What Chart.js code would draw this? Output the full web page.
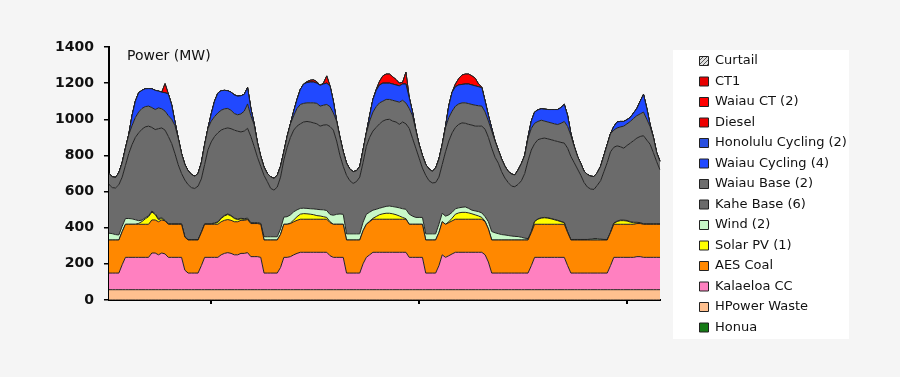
<!DOCTYPE html>
<html>
<head>
<meta charset="utf-8">
<script src="https://cdn.jsdelivr.net/npm/chart.js@4.4.1/dist/chart.umd.min.js"></script>
<style>
  html, body { margin: 0; padding: 0; background: #f5f5f5; }
  #wrap { width: 900px; height: 377px; position: relative; }
</style>
</head>
<body>
<div id="wrap"><canvas id="chart"></canvas></div>
<script>
// one week of hourly dispatch, MW
const hours = Array.from({ length: 168 }, (_, i) => i);
const xTickHours = [31, 94, 157];
const yTicks = [0, 200, 400, 600, 800, 1000, 1200, 1400];
const axisTitle = 'Power (MW)';

const honua = [
  0,0,0,0,0,0,0,0,0,0,0,0,0,0,0,0,0,0,0,0,0,0,0,0,
  0,0,0,0,0,0,0,0,0,0,0,0,0,0,0,0,0,0,0,0,0,0,0,0,
  0,0,0,0,0,0,0,0,0,0,0,0,0,0,0,0,0,0,0,0,0,0,0,0,
  0,0,0,0,0,0,0,0,0,0,0,0,0,0,0,0,0,0,0,0,0,0,0,0,
  0,0,0,0,0,0,0,0,0,0,0,0,0,0,0,0,0,0,0,0,0,0,0,0,
  0,0,0,0,0,0,0,0,0,0,0,0,0,0,0,0,0,0,0,0,0,0,0,0,
  0,0,0,0,0,0,0,0,0,0,0,0,0,0,0,0,0,0,0,0,0,0,0,0
];
const hpowerWaste = [
  57,57,57,57,57,57,57,57,57,57,57,57,57,57,57,57,57,57,57,57,57,57,57,57,
  57,57,57,57,57,57,57,57,57,57,57,57,57,57,57,57,57,57,57,57,57,57,57,57,
  57,57,57,57,57,57,57,57,57,57,57,57,57,57,57,57,57,57,57,57,57,57,57,57,
  57,57,57,57,57,57,57,57,57,57,57,57,57,57,57,57,57,57,57,57,57,57,57,57,
  57,57,57,57,57,57,57,57,57,57,57,57,57,57,57,57,57,57,57,57,57,57,57,57,
  57,57,57,57,57,57,57,57,57,57,57,57,57,57,57,57,57,57,57,57,57,57,57,57,
  57,57,57,57,57,57,57,57,57,57,57,57,57,57,57,57,57,57,57,57,57,57,57,57
];
const kalaeloaCC = [
  92,92,92,92,138,179,179,179,179,179,179,179,179,203,203,193,203,198,179,179,179,179,179,108,
  92,92,92,92,133,179,179,179,179,179,193,201,205,201,193,193,201,201,205,183,183,183,179,92,
  92,92,92,92,123,179,179,183,193,201,207,207,207,207,207,207,207,207,207,188,179,179,179,179,
  92,92,92,92,92,143,179,193,207,207,207,207,207,207,207,207,207,207,207,179,179,179,179,179,
  92,92,92,92,133,193,179,188,198,207,207,207,207,207,207,207,207,207,193,153,92,92,92,92,
  92,92,92,92,92,92,92,92,133,179,179,179,179,179,179,179,179,179,179,133,92,92,92,92,
  92,92,92,92,92,92,92,92,133,179,179,179,179,179,179,179,183,183,179,179,179,179,179,179
];
const aesCoal = [
  183,183,183,183,183,183,183,183,183,183,183,183,183,183,183,183,183,183,183,183,183,183,183,183,
  183,183,183,183,183,183,183,183,183,183,183,183,183,183,183,183,183,183,183,183,183,183,183,183,
  183,183,183,183,183,183,183,183,183,183,183,183,183,183,183,183,183,183,183,183,183,183,183,183,
  183,183,183,183,183,183,183,183,183,183,183,183,183,183,183,183,183,183,183,183,183,183,183,183,
  183,183,183,183,183,183,183,183,183,183,183,183,183,183,183,183,183,183,183,183,183,183,183,183,
  183,183,183,183,183,183,183,183,183,183,183,183,183,183,183,183,183,183,183,183,183,183,183,183,
  183,183,183,183,183,183,183,183,183,183,183,183,183,183,183,183,183,183,183,183,183,183,183,183
];
const solarPV = [
  0,0,0,0,0,0,0,0,0,5,15,30,42,44,30,12,8,0,0,0,0,0,0,0,
  0,0,0,0,0,0,0,0,5,10,18,24,28,24,18,12,8,5,3,0,0,0,0,0,
  0,0,0,0,0,0,0,3,10,20,28,31,30,28,25,20,18,14,10,5,0,0,0,0,
  0,0,0,0,0,0,0,3,5,15,25,30,33,33,30,25,18,10,3,0,0,0,0,0,
  0,0,0,0,0,0,0,5,15,28,35,38,38,35,30,24,18,10,3,0,0,0,0,0,
  0,0,0,0,0,0,0,0,3,15,28,34,36,34,30,25,20,14,8,2,0,0,0,0,
  0,0,0,0,0,0,0,0,0,5,15,20,20,18,12,8,4,2,0,0,0,0,0,0
];
const wind = [
  38,35,30,28,30,32,32,30,25,15,8,6,5,5,5,5,5,3,3,3,3,3,3,2,
  2,2,2,2,3,3,3,3,3,3,3,3,3,3,3,3,3,4,5,5,5,5,5,18,
  18,18,18,18,30,40,42,45,45,38,32,30,30,30,32,35,35,38,38,40,50,55,57,55,
  34,34,34,34,34,47,55,50,45,40,36,36,38,40,40,42,45,48,52,56,45,38,38,38,
  34,34,34,34,47,47,45,38,32,30,28,28,30,25,20,22,24,25,25,40,47,40,35,30,
  28,25,22,20,19,15,10,8,3,2,2,2,2,2,2,2,2,2,2,2,3,3,3,3,
  3,3,5,8,8,5,3,3,3,3,3,3,3,3,3,3,3,3,3,3,3,3,3,3
];
const kaheBase = [
  270,255,258,278,272,294,359,411,456,486,503,503,496,463,465,498,496,499,483,444,388,326,278,314,
  304,288,283,296,294,328,409,453,478,493,486,480,476,480,486,486,478,485,497,477,422,362,316,340,
  305,268,258,275,287,316,384,429,452,463,468,477,481,480,476,473,462,469,475,487,471,406,324,266,
  324,294,279,289,314,330,376,414,438,453,467,477,480,480,473,471,462,480,473,475,431,383,328,273,
  324,294,282,284,260,270,356,409,440,450,462,467,463,465,471,469,473,480,484,467,461,418,390,348,
  315,293,276,275,289,313,358,430,451,429,438,438,439,437,436,436,436,437,439,463,459,425,390,355,
  315,290,277,272,295,323,375,425,444,418,416,406,398,415,434,452,466,477,487,463,440,393,343,298
];
const waiauBase = [
  60,60,58,67,80,95,105,105,110,115,115,112,111,110,111,115,106,105,115,134,155,147,110,86,
  77,73,68,70,90,110,119,115,110,110,110,110,108,102,92,91,100,110,135,115,120,80,55,45,
  45,64,65,65,60,45,60,75,80,98,107,103,103,106,111,113,111,110,112,110,95,110,100,80,
  67,65,65,60,58,70,74,90,105,115,116,110,112,110,115,115,123,120,115,110,125,100,75,70,
  60,65,64,80,100,110,135,130,120,118,113,111,113,115,114,116,113,111,95,90,95,90,73,70,
  65,62,67,65,80,95,100,125,120,113,101,102,94,93,93,93,94,106,120,120,116,90,70,65,
  62,70,71,71,70,80,90,100,100,95,99,110,122,120,120,123,124,125,131,115,98,85,50,48
];
const waiauCycling = [
  0,0,0,0,0,0,0,55,90,107,100,99,97,104,106,93,92,102,120,80,20,0,0,0,
  0,0,0,0,0,0,0,40,85,110,108,102,98,100,103,103,100,93,90,40,5,0,0,0,
  0,0,0,0,0,0,0,0,25,50,83,107,112,115,115,112,115,117,118,114,65,0,0,0,
  0,0,0,0,0,0,0,30,70,90,99,100,90,90,90,90,90,90,105,60,20,0,0,0,
  0,0,0,0,0,0,5,65,105,107,105,102,104,108,108,107,105,102,60,30,15,0,0,0,
  0,0,0,0,0,0,0,5,40,62,64,63,66,69,74,79,83,87,94,60,10,0,0,0,
  0,0,0,0,0,0,0,0,0,20,33,30,26,23,22,30,40,70,98,60,10,0,0,0
];
const honoluluCycling = [
  0,0,0,0,0,0,0,0,0,0,0,0,0,0,0,0,0,0,0,0,0,0,0,0,
  0,0,0,0,0,0,0,0,0,0,0,0,0,0,0,0,0,0,0,0,0,0,0,0,
  0,0,0,0,0,0,0,0,0,0,0,0,0,0,0,0,0,0,0,0,0,0,0,0,
  0,0,0,0,0,0,0,0,0,0,0,0,0,0,0,0,0,0,0,0,0,0,0,0,
  0,0,0,0,0,0,0,0,0,0,0,0,0,0,0,0,0,0,0,0,0,0,0,0,
  0,0,0,0,0,0,0,0,0,0,0,0,0,0,0,0,0,0,0,0,0,0,0,0,
  0,0,0,0,0,0,0,0,0,0,0,0,0,0,0,0,0,0,0,0,0,0,0,0
];
const diesel = [
  0,0,0,0,0,0,0,0,0,0,0,0,0,0,0,0,0,0,0,0,0,0,0,0,
  0,0,0,0,0,0,0,0,0,0,0,0,0,0,0,0,0,0,0,0,0,0,0,0,
  0,0,0,0,0,0,0,0,0,0,0,0,0,0,0,0,0,0,0,0,0,0,0,0,
  0,0,0,0,0,0,0,0,0,0,0,0,0,0,0,0,0,0,0,0,0,0,0,0,
  0,0,0,0,0,0,0,0,0,0,0,0,0,0,0,0,0,0,0,0,0,0,0,0,
  0,0,0,0,0,0,0,0,0,0,0,0,0,0,0,0,0,0,0,0,0,0,0,0,
  0,0,0,0,0,0,0,0,0,0,0,0,0,0,0,0,0,0,0,0,0,0,0,0
];
const waiauCT = [
  0,0,0,0,0,0,0,0,0,0,0,0,0,0,0,0,0,50,0,0,0,0,0,0,
  0,0,0,0,0,0,0,0,0,0,0,0,0,0,0,0,0,0,0,0,0,0,0,0,
  0,0,0,0,0,0,0,0,0,0,0,0,5,10,12,8,0,5,40,0,0,0,0,0,
  0,0,0,0,0,0,0,0,0,5,20,40,50,50,40,30,15,10,65,0,0,0,0,0,
  0,0,0,0,0,0,0,0,0,15,35,52,55,55,50,42,15,3,0,0,0,0,0,0,
  0,0,0,0,0,0,0,0,0,0,0,0,0,0,0,0,0,0,0,0,0,0,0,0,
  0,0,0,0,0,0,0,0,0,0,0,0,0,0,0,0,0,0,0,0,0,0,0,0
];
const ct1 = [
  0,0,0,0,0,0,0,0,0,0,0,0,0,0,0,0,0,0,0,0,0,0,0,0,
  0,0,0,0,0,0,0,0,0,0,0,0,0,0,0,0,0,0,0,0,0,0,0,0,
  0,0,0,0,0,0,0,0,0,0,0,0,0,0,0,0,0,0,0,0,0,0,0,0,
  0,0,0,0,0,0,0,0,0,0,0,0,0,0,0,0,0,0,0,0,0,0,0,0,
  0,0,0,0,0,0,0,0,0,0,0,0,0,0,0,0,0,0,0,0,0,0,0,0,
  0,0,0,0,0,0,0,0,0,0,0,0,0,0,0,0,0,0,0,0,0,0,0,0,
  0,0,0,0,0,0,0,0,0,0,0,0,0,0,0,0,0,0,0,0,0,0,0,0
];
const curtail = [
  0,0,0,0,0,0,0,0,0,0,0,0,0,0,0,0,0,0,0,0,0,0,0,0,
  0,0,0,0,0,0,0,0,0,0,0,0,0,0,0,0,0,0,0,0,0,0,0,0,
  0,0,0,0,0,0,0,0,0,0,0,0,0,0,0,0,0,0,0,0,0,0,0,0,
  0,0,0,0,0,0,0,0,0,0,0,0,0,0,0,0,0,0,0,0,0,0,0,0,
  0,0,0,0,0,0,0,0,0,0,0,0,0,0,0,0,0,0,0,0,0,0,0,0,
  0,0,0,0,0,0,0,0,0,0,0,0,0,0,0,0,0,0,0,0,0,0,0,0,
  0,0,0,0,0,0,0,0,0,0,0,0,0,0,0,0,0,0,0,0,0,0,0,0
];

// hatched swatch for curtailment
function hatch() {
  const c = document.createElement('canvas');
  c.width = 4; c.height = 4;
  const g = c.getContext('2d');
  g.fillStyle = '#e0e0e0';
  g.fillRect(0, 0, 4, 4);
  g.strokeStyle = '#555';
  g.lineWidth = 1;
  g.beginPath();
  g.moveTo(0, 4); g.lineTo(4, 0);
  g.moveTo(-1, 1); g.lineTo(1, -1);
  g.moveTo(3, 5); g.lineTo(5, 3);
  g.stroke();
  return g.createPattern(c, 'repeat');
}

// bottom of the stack first
const series = [
  { label: 'Honua', data: honua, color: '#157a15' },
  { label: 'HPower Waste', data: hpowerWaste, color: '#ffc08f' },
  { label: 'Kalaeloa CC', data: kalaeloaCC, color: '#ff80c0' },
  { label: 'AES Coal', data: aesCoal, color: '#ff8800' },
  { label: 'Solar PV (1)', data: solarPV, color: '#ffff00' },
  { label: 'Wind (2)', data: wind, color: '#c8f8c8' },
  { label: 'Kahe Base (6)', data: kaheBase, color: '#6b6b6b' },
  { label: 'Waiau Base (2)', data: waiauBase, color: '#6e6e6e' },
  { label: 'Waiau Cycling (4)', data: waiauCycling, color: '#2149ff' },
  { label: 'Honolulu Cycling (2)', data: honoluluCycling, color: '#2a50e0' },
  { label: 'Diesel', data: diesel, color: '#ee0000' },
  { label: 'Waiau CT (2)', data: waiauCT, color: '#ff0000' },
  { label: 'CT1', data: ct1, color: '#e80000' },
  { label: 'Curtail', data: curtail, color: hatch() }
];

const datasets = series.map((s, i) => ({
  label: s.label,
  data: s.data,
  backgroundColor: s.color,
  borderColor: '#222',
  borderWidth: 1,
  pointRadius: 0,
  tension: 0,
  fill: i === 0 ? 'origin' : '-1'
}));

const pageBg = {
  id: 'pageBg',
  beforeDraw(chart) {
    const { ctx, chartArea } = chart;
    ctx.save();
    ctx.fillStyle = '#f5f5f5';
    ctx.fillRect(0, 0, chart.width, chart.height);
    ctx.fillStyle = '#ffffff';
    ctx.fillRect(chartArea.right + 13, 50, 176, 289);
    ctx.restore();
  },
  afterDraw(chart) {
    const { ctx, chartArea } = chart;
    ctx.save();
    ctx.fillStyle = '#111';
    ctx.font = '14px "DejaVu Sans"';
    ctx.textBaseline = 'middle';
    ctx.fillText(axisTitle, chartArea.left + 18, chartArea.top + 9);
    ctx.restore();
  }
};

// legend sits in its own box, away from the plot, one column
const legendGap = {
  id: 'legendGap',
  afterInit(chart) {
    const legend = chart.legend;
    const fit = legend.fit;
    legend.fit = function () {
      this.maxHeight = 330;
      fit.call(this);
      this.width = 240;
    };
    const draw = legend.draw;
    legend.draw = function () {
      const left = this.left, bottom = this.bottom;
      this.left = left + 32;
      this.bottom = 350;
      draw.call(this);
      this.left = left;
      this.bottom = bottom;
    };
  }
};

Chart.defaults.font.family = '"DejaVu Sans", sans-serif';
Chart.defaults.color = '#111';

new Chart(document.getElementById('chart'), {
  type: 'line',
  data: { labels: hours, datasets },
  options: {
    responsive: true,
    maintainAspectRatio: false,
    animation: false,
    layout: { padding: { left: 45, top: 47, right: 0, bottom: 73 } },
    plugins: {
      tooltip: { enabled: false },
      legend: {
        position: 'right',
        align: 'start',
        reverse: true,
        labels: {
          boxWidth: 9,
          boxHeight: 9,
          padding: 7.5,
          color: '#111',
          font: { size: 13 }
        }
      }
    },
    scales: {
      x: {
        type: 'category',
        offset: false,
        border: { display: true, color: '#000', width: 2 },
        grid: {
          drawOnChartArea: false,
          drawTicks: true,
          tickLength: 4,
          lineWidth: 2,
          color: c => xTickHours.includes(c.index) ? '#000' : 'rgba(0,0,0,0)'
        },
        ticks: { display: false, autoSkip: false }
      },
      y: {
        stacked: true,
        min: 0,
        max: 1400,
        afterBuildTicks: axis => { axis.ticks = yTicks.map(v => ({ value: v })); },
        border: { display: true, color: '#000', width: 2 },
        grid: { drawOnChartArea: false, drawTicks: true, tickLength: 5, color: '#000', lineWidth: 1.5 },
        ticks: { padding: 10, color: '#111', font: { size: 14, weight: 'bold' }, callback: v => String(v) }
      }
    }
  },
  plugins: [pageBg, legendGap]
});
</script>
</body>
</html>
